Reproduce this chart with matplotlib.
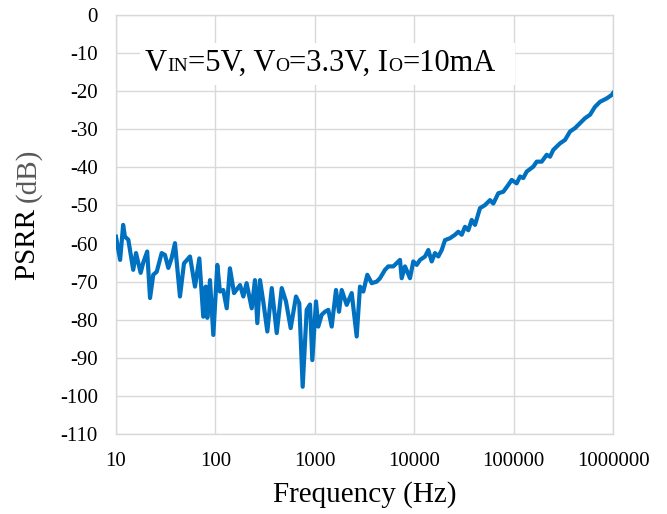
import numpy as np
import matplotlib
matplotlib.use("Agg")
import matplotlib.pyplot as plt
from matplotlib.ticker import FixedLocator, FuncFormatter, NullLocator
from matplotlib.patches import Rectangle

plt.rcParams['font.family'] = ['Liberation Serif', 'DejaVu Serif']

freq = [10, 11, 11.8, 12.3, 13.3, 14.9, 15.9, 17.7, 18.8, 20.6, 22.0, 23.7, 25.7,
        28.8, 31.1, 33.6, 36.3, 39.2, 44.0, 48.3, 55.5, 62.3, 68.9, 75.5, 79.9,
        82.9, 88.2, 95.3, 104.5, 111, 120, 130, 140, 154, 177, 191, 206, 232,
        250, 264, 281, 303, 333, 369, 414, 465, 513, 572, 647, 698, 755, 829,
        895, 944, 1028, 1084, 1173, 1266, 1367, 1479, 1634, 1752, 1865, 2094,
        2351, 2639, 2849, 3075, 3375, 3736, 4194, 4529, 5084, 5488, 6161, 7196,
        7484, 8080, 9072, 9793, 10600, 11440, 12850, 13870, 15000, 16190, 17480,
        18910, 20410, 22920, 25730, 27780, 30060, 32440, 35020, 37890, 40900,
        45920, 51550, 57880, 62500, 70180, 78790, 88460, 95700, 107400, 116000,
        125200, 135500, 157900, 170800, 191800, 215300, 232400, 250900, 293000,
        329000, 369400, 414700, 465600, 522700, 586900, 659000, 739800, 864500,
        970300, 1000000]
psrr = [-58.2, -64.3, -55.1, -58.2, -59.0, -66.9, -62.5, -67.7, -65.0, -62.1, -74.3,
        -68.2, -67.4, -62.5, -63.0, -66.4, -63.8, -59.9, -73.9, -65.2, -63.4, -71.3,
        -63.9, -79.2, -71.3, -79.5, -69.6, -84.0, -65.6, -72.6, -72.2, -77.0, -66.5,
        -73.0, -70.9, -73.9, -70.4, -77.0, -69.6, -80.9, -69.6, -75.2, -83.1, -71.7,
        -83.5, -71.7, -75.2, -82.2, -73.9, -75.7, -97.6, -77.4, -76.0, -90.6, -75.2,
        -81.8, -78.7, -77.9, -77.4, -81.8, -72.2, -77.9, -72.2, -76.1, -73.0, -84.4,
        -71.3, -72.6, -68.2, -70.4, -70.0, -69.1, -66.9, -66.0, -66.0, -64.3, -69.1,
        -66.0, -69.1, -64.7, -65.6, -64.3, -63.4, -61.7, -64.7, -62.5, -63.4, -61.7,
        -59.1, -58.6, -57.7, -56.9, -57.7, -55.6, -56.5, -53.8, -55.1, -50.7, -49.9,
        -48.6, -49.5, -46.8, -46.4, -44.6, -43.3, -44.2, -42.4, -42.8, -41.1, -39.8,
        -38.5, -38.5, -36.7, -37.2, -35.4, -33.7, -32.8, -30.6, -29.7, -28.4, -27.1,
        -26.2, -24.1, -22.8, -21.9, -21.0, -20.5]

x_ticks = [10, 100, 1000, 10000, 100000, 1000000]
y_ticks = list(range(-110, 1, 10))

W, H = 667, 514
fig = plt.figure(figsize=(W / 100, H / 100), dpi=100)
ax = fig.add_axes([116 / W, 80 / H, 497 / W, 419 / H])

ax.plot(freq, psrr, color='#0070C0', lw=3.0, solid_joinstyle='round', zorder=3)

ax.set_xscale('log')
ax.set_xlim(10, 1e6)
ax.set_ylim(-110, 0)
ax.xaxis.set_major_locator(FixedLocator(x_ticks))
ax.xaxis.set_minor_locator(NullLocator())
ax.xaxis.set_major_formatter(FuncFormatter(lambda v, p: '%d' % round(v)))
ax.yaxis.set_major_locator(FixedLocator(y_ticks))
ax.yaxis.set_major_formatter(FuncFormatter(lambda v, p: '%d' % round(v)))

ax.grid(True, color='#D9D9D9', lw=1.0)
ax.set_axisbelow(True)
for s in ax.spines.values():
    s.set_color('#D9D9D9')
    s.set_linewidth(1.0)
ax.tick_params(length=0, pad=13, labelsize=15)

ax.set_xlabel('Frequency (Hz)', fontsize=21, va='center')
ax.xaxis.set_label_coords(0.5, (434 - 495) / 419)

# white label box over the grid
ax.add_patch(Rectangle((0.048, 0.833), 0.755, 0.1, transform=ax.transAxes,
                       facecolor='white', edgecolor='none', zorder=2))

fig.canvas.draw()
r = fig.canvas.get_renderer()

# y label: "PSRR" black, "(dB)" grey, rotated, reading bottom to top
yp = H - 280
for txt, col in [('PSRR ', 'black'), ('(dB)', '#595959')]:
    t = fig.text(35 / W, yp / H, txt, fontsize=21, rotation=90, rotation_mode='anchor',
                 ha='left', va='baseline', color=col)
    yp += t.get_window_extent(r).height

# condition text with small-caps subscripts
pieces = [('V', 22), ('IN', 14), ('=5V, V', 22), ('O', 14), ('=3.3V, I', 22),
          ('O', 14), ('=10mA', 22)]
xp, yb = 145, H - 71
for txt, sz in pieces:
    t = fig.text(xp / W, yb / H, txt, fontsize=sz, va='baseline', ha='left', zorder=4)
    xp += t.get_window_extent(r).width

fig.savefig('out.png', dpi=100)
